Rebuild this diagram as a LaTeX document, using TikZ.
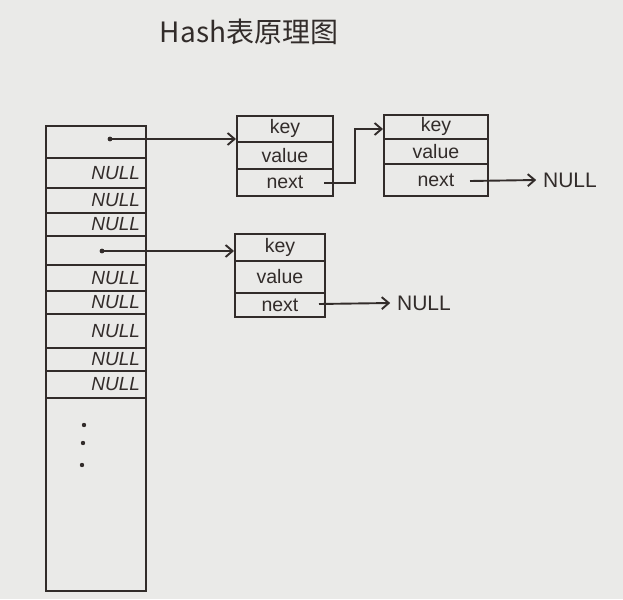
\documentclass[tikz,border=0pt]{standalone}
\usepackage{fontspec}
\setmainfont{Liberation Sans}
\newfontfamily\cjkfont{Noto Sans CJK SC}
\usetikzlibrary{arrows.meta}
\definecolor{ink}{RGB}{50,44,42}
\definecolor{paper}{RGB}{234,234,232}
\begin{document}
\begin{tikzpicture}[x=1pt,y=-1pt,
  line width=1.9pt,
  tcell/.style={draw=ink, line width=1.9pt, minimum width=100pt, inner sep=0pt,
    anchor=north west, text=ink, align=right, text width=88pt,
    font=\fontsize{19}{19}\selectfont\itshape},
  ncell/.style={draw=ink, line width=1.9pt, inner sep=0pt, anchor=north west,
    text=ink, font=\fontsize{19.5}{19.5}\selectfont},
  nulltext/.style={text=ink, font=\fontsize{21}{21}\selectfont, inner sep=6pt},
  arr/.style={draw=ink, line width=1.9pt, -{Straight Barb[length=7pt,width=12pt]}},
  dotmark/.style={fill=ink}
]
\fill[paper] (0,0) rectangle (623,599);
\useasboundingbox (0,0) rectangle (623,599);

% title
\node[text=ink, font=\fontsize{28}{28}\selectfont\cjkfont] (title) at (249,32) {Hash表原理图};

% hash table column
\node[tcell, minimum height=32pt] (t1) at (45,125) {};
\node[tcell, minimum height=30pt] (t2) at (45,157) {NULL};
\node[tcell, minimum height=25pt] (t3) at (45,187) {NULL};
\node[tcell, minimum height=23pt] (t4) at (45,212) {NULL};
\node[tcell, minimum height=29pt] (t5) at (45,235) {};
\node[tcell, minimum height=26pt] (t6) at (45,264) {NULL};
\node[tcell, minimum height=23pt] (t7) at (45,290) {NULL};
\node[tcell, minimum height=34pt] (t8) at (45,313) {NULL};
\node[tcell, minimum height=23pt] (t9) at (45,347) {NULL};
\node[tcell, minimum height=27pt] (t10) at (45,370) {NULL};
\node[tcell, minimum height=193pt] (t11) at (45,397) {};

% ellipsis dots
\fill[ink] (84,425) circle (2.2pt);
\fill[ink] (83,443) circle (2.2pt);
\fill[ink] (82,465) circle (2.2pt);

% first chain: node 1
\node[ncell, minimum width=96pt, minimum height=26pt] (n1k) at (236,115) {key};
\node[ncell, minimum width=96pt, minimum height=27pt] (n1v) at (236,141) {value};
\node[ncell, minimum width=96pt, minimum height=27pt] (n1n) at (236,168) {next};

% first chain: node 2
\node[ncell, minimum width=104pt, minimum height=24pt] (n2k) at (383,114) {key};
\node[ncell, minimum width=104pt, minimum height=25pt] (n2v) at (383,138) {value};
\node[ncell, minimum width=104pt, minimum height=32pt] (n2n) at (383,163) {next};

% second chain: node 3
\node[ncell, minimum width=90pt, minimum height=27pt] (n3k) at (234,233) {key};
\node[ncell, minimum width=90pt, minimum height=32pt] (n3v) at (234,260) {value};
\node[ncell, minimum width=90pt, minimum height=24pt] (n3n) at (234,292) {next};

% NULL terminators
\node[nulltext] (null1) at (570,180) {NULL};
\node[nulltext] (null2) at (424,303) {NULL};

% pointers from table
\coordinate (d1) at (110,139);
\coordinate (d5) at (102,251);
\fill[dotmark] (d1) circle (2.4pt);
\fill[dotmark] (d5) circle (2.4pt);
\draw[arr] (d1) -- (d1 -| n1k.west);
\draw[arr] (d5) -- (d5 -| n3k.west);

% next pointers
\coordinate (c1) at (324,183);
\coordinate (b1) at (355,129);
\draw[arr] (c1) -- (c1 -| b1) -- (b1) -- (b1 -| n2k.west);

\coordinate (c2) at (470,181);
\draw[arr] (c2) -- (null1.west);

\coordinate (c3) at (319,304);
\draw[arr] (c3) -- (null2.west);
\end{tikzpicture}
\end{document}
